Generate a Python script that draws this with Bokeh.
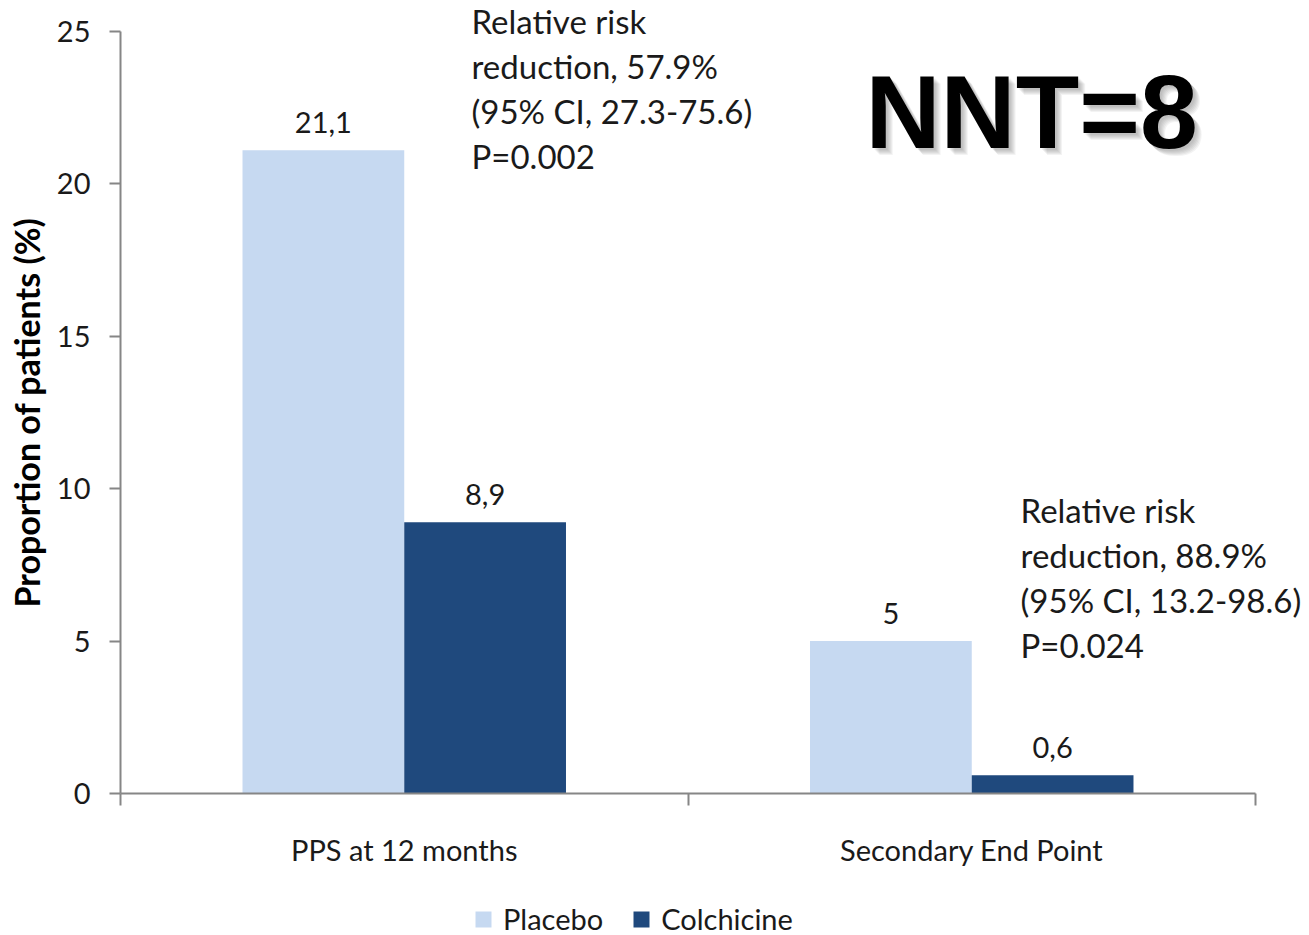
from bokeh.plotting import figure
from bokeh.models import (Range1d, FixedTicker, Label, LabelSet, ColumnDataSource,
                          Legend, LegendItem)
from bokeh.core.properties import value
from bokeh.transform import dodge
from bokeh.embed import file_html
from bokeh.resources import INLINE

# --- data -------------------------------------------------------------------
categories = ["PPS at 12 months", "Secondary End Point"]
series_names = ["Placebo", "Colchicine"]
placebo = [21.1, 5.0]
colchicine = [8.9, 0.6]
placebo_labels = ["21,1", "5"]
colchicine_labels = ["8,9", "0,6"]
y_ticks = [0, 5, 10, 15, 20, 25]
y_max = 25
risk_notes = [
    ["Relative risk", "reduction, 57.9%", "(95% CI, 27.3-75.6)", "P=0.002"],
    ["Relative risk", "reduction, 88.9%", "(95% CI, 13.2-98.6)", "P=0.024"],
]
nnt_text = "NNT=8"

# --- styling / layout ---------------------------------------------------------
PLACEBO_COLOR = "#C6D9F1"
COLCH_COLOR = "#1F497D"
AXIS_COLOR = "#868686"
TEXT_COLOR = "#1a1a1a"
FONT = "Lato"
BAR_W = 0.285
HALF = BAR_W / 2

W, H = 1309, 935
LEFT, BOTTOM = 120, 142          # pixel position of the axes' origin
PX_PER_CAT = 567.5               # horizontal pixels per category
PX_PER_UNIT = 30.48              # vertical pixels per percent

# The plot frame spans the whole canvas so that notes and legend are never
# clipped; the axes are pinned at the data origin and bounded to the data.
x_range = Range1d(-LEFT / PX_PER_CAT, (W - LEFT) / PX_PER_CAT)
y_range = Range1d(-BOTTOM / PX_PER_UNIT, (H - BOTTOM) / PX_PER_UNIT)

centers = [i + 0.5 for i in range(len(categories))]
source = ColumnDataSource(dict(
    x=centers,
    placebo=placebo,
    colchicine=colchicine,
    placebo_label=placebo_labels,
    colchicine_label=colchicine_labels,
))

p = figure(width=W, height=H, output_backend="svg", toolbar_location=None,
           x_range=x_range, y_range=y_range, min_border=0)
p.outline_line_color = None
p.xgrid.visible = False
p.ygrid.visible = False
p.background_fill_color = "white"
p.border_fill_color = "white"

r_pl = p.vbar(x=dodge("x", -HALF), top="placebo", width=BAR_W, source=source,
              fill_color=PLACEBO_COLOR, line_color=None)
r_co = p.vbar(x=dodge("x", HALF), top="colchicine", width=BAR_W, source=source,
              fill_color=COLCH_COLOR, line_color=None)

# value labels above bars
for col, lab, off in (("placebo", "placebo_label", -HALF),
                      ("colchicine", "colchicine_label", HALF)):
    p.add_layout(LabelSet(x=dodge("x", off), y=col, text=lab, source=source,
                          text_align="center", text_baseline="middle",
                          y_offset=28, text_font=value(FONT),
                          text_font_size="29px", text_color=TEXT_COLOR))

# y axis
ya = p.yaxis[0]
ya.fixed_location = 0
ya.ticker = FixedTicker(ticks=y_ticks)
ya.bounds = (0, y_max)
ya.axis_line_color = AXIS_COLOR
ya.axis_line_width = 2
ya.major_tick_line_color = AXIS_COLOR
ya.major_tick_line_width = 2
ya.major_tick_out = 11
ya.major_tick_in = 0
ya.minor_tick_line_color = None
ya.major_label_standoff = 19
ya.major_label_text_font = FONT
ya.major_label_text_font_size = "29px"
ya.major_label_text_color = TEXT_COLOR
ya.axis_label = "Proportion of patients (%)"
ya.axis_label_text_font = FONT
ya.axis_label_text_font_style = "bold"
ya.axis_label_text_font_size = "34px"
ya.axis_label_text_color = "#000000"
ya.axis_label_standoff = 7

# x axis: category names centred, boundary ticks drawn as minor ticks
xa = p.xaxis[0]
xa.fixed_location = 0
xa.ticker = FixedTicker(ticks=centers, minor_ticks=list(range(len(categories) + 1)))
xa.bounds = (0, len(categories))
xa.major_label_overrides = {c: name for c, name in zip(centers, categories)}
xa.axis_line_color = AXIS_COLOR
xa.axis_line_width = 2
xa.major_tick_line_color = None
xa.major_tick_out = 0
xa.major_tick_in = 0
xa.minor_tick_line_color = AXIS_COLOR
xa.minor_tick_line_width = 2
xa.minor_tick_out = 12
xa.minor_tick_in = 0
xa.major_label_standoff = 26
xa.major_label_text_font = FONT
xa.major_label_text_font_size = "29px"
xa.major_label_text_color = TEXT_COLOR

# relative-risk notes (first-line anchor, then 45px per line)
note_anchors = [(0.6185, 25.33), (1.586, 9.3)]
for (ax_, ay_), lines in zip(note_anchors, risk_notes):
    for i, line in enumerate(lines):
        p.add_layout(Label(x=ax_, y=ay_, y_offset=-45 * i, text=line,
                           text_font=FONT, text_font_size="33px",
                           text_color=TEXT_COLOR, text_baseline="middle",
                           text_align="left"))

# NNT headline with a soft grey drop shadow
nnt_x, nnt_y = 1.3128, 22.36
for k in range(2, 8):
    p.add_layout(Label(x=nnt_x, y=nnt_y, x_offset=k, y_offset=-k, text=nnt_text,
                       text_font="Liberation Sans", text_font_style="bold",
                       text_font_size="104px", text_color="#555555",
                       text_alpha=0.07, text_baseline="middle"))
p.add_layout(Label(x=nnt_x, y=nnt_y, text=nnt_text,
                   text_font="Liberation Sans", text_font_style="bold",
                   text_font_size="104px", text_color="#000000",
                   text_baseline="middle"))

# legend beneath the x axis (location is measured from the canvas' lower left)
legend = Legend(items=[LegendItem(label=series_names[0], renderers=[r_pl]),
                       LegendItem(label=series_names[1], renderers=[r_co])],
                orientation="horizontal", location=(473, -1),
                glyph_width=20, glyph_height=20, label_standoff=10, spacing=28,
                padding=0, margin=0, border_line_color=None,
                background_fill_alpha=0, label_text_font=FONT,
                label_text_font_size="29px", label_text_color=TEXT_COLOR)
p.add_layout(legend, "center")

open("out.html", "w").write(file_html(p, INLINE))
